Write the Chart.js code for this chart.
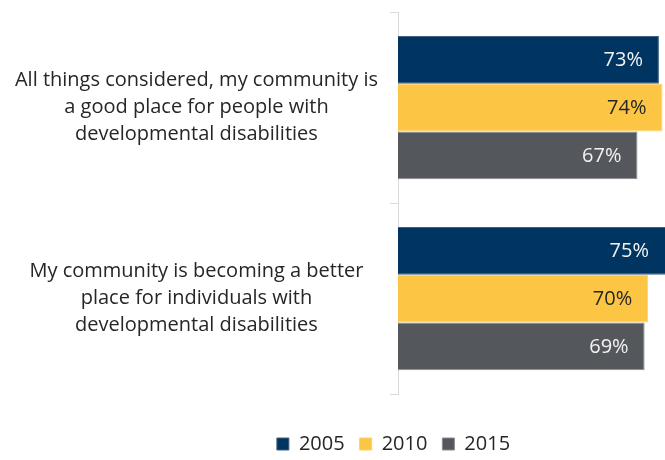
<!DOCTYPE html>
<html>
<head>
<meta charset="utf-8">
<script src="https://cdn.jsdelivr.net/npm/chart.js@4/dist/chart.umd.min.js"></script>
<style>
  html, body { margin: 0; padding: 0; background: #fff; }
  #wrap { width: 665px; height: 460px; }
</style>
</head>
<body>
<div id="wrap"><canvas id="bar_chart"></canvas></div>
<script>
var categories = [
  ["All things considered, my community is", "a good place for people with", "developmental disabilities"],
  ["My community is becoming a better", "place for individuals with", "developmental disabilities"],
];
var seriesNames = ["2005", "2010", "2015"];
var values2005 = [73, 75];
var values2010 = [74, 70];
var values2015 = [67, 69];

var fontFamily = "'Open Sans', sans-serif";

// draws the "73%" labels inside the bar ends
var valueLabels = {
  id: "valueLabels",
  afterDatasetsDraw: function (chart) {
    var ctx = chart.ctx;
    ctx.save();
    ctx.font = "20px " + fontFamily;
    ctx.textAlign = "right";
    ctx.textBaseline = "middle";
    chart.data.datasets.forEach(function (ds, i) {
      var meta = chart.getDatasetMeta(i);
      meta.data.forEach(function (bar, j) {
        var x = Math.min(bar.x, chart.chartArea.right);
        ctx.fillStyle = ds.labelColor;
        ctx.fillText(ds.data[j] + "%", x - 16, bar.y + 1);
      });
    });
    ctx.restore();
  },
};

// legend in the original sits right of centre
var shiftLegend = {
  id: "shiftLegend",
  afterLayout: function (chart) {
    chart.legend.left += 61;
    chart.legend.right += 61;
  },
};

var ctx = document.getElementById("bar_chart").getContext("2d");
var myChart = new Chart(ctx, {
  type: "bar",
  data: {
    labels: categories,
    datasets: [
      {
        label: seriesNames[0],
        data: values2005,
        backgroundColor: "#003562",
        borderColor: "#40607f",
        borderWidth: 1,
        labelColor: "#f2f2f2",
      },
      {
        label: seriesNames[1],
        data: values2010,
        backgroundColor: "#fdc544",
        borderColor: "#fdd170",
        borderWidth: 1,
        labelColor: "#262626",
      },
      {
        label: seriesNames[2],
        data: values2015,
        backgroundColor: "#54575b",
        borderColor: "#8a8c8f",
        borderWidth: 1,
        labelColor: "#f2f2f2",
      },
    ],
  },
  plugins: [valueLabels, shiftLegend],
  options: {
    indexAxis: "y",
    responsive: true,
    maintainAspectRatio: false,
    animation: false,
    categoryPercentage: 0.75,
    barPercentage: 1.0,
    layout: {
      padding: { top: 12, right: 0, bottom: -4, left: 0 },
    },
    scales: {
      x: {
        display: true,
        min: 0,
        max: 74.7,
        grid: { display: false },
        border: { display: false },
        ticks: { display: false },
        afterFit: function (axis) {
          axis.height = 25;
        },
      },
      y: {
        afterFit: function (axis) {
          axis.width = 398;
          axis.paddingTop = 0;
          axis.paddingBottom = 0;
        },
        border: { display: true, color: "#d9d9d9", width: 1 },
        grid: {
          display: true,
          offset: true,
          drawOnChartArea: false,
          drawTicks: true,
          tickLength: 8,
          color: "#d9d9d9",
        },
        ticks: {
          crossAlign: "center",
          padding: 12,
          color: "#262626",
          font: { family: fontFamily, size: 20, lineHeight: 1.35 },
        },
      },
    },
    plugins: {
      tooltip: { enabled: false },
      legend: {
        position: "bottom",
        labels: {
          boxWidth: 12,
          boxHeight: 12,
          padding: 15,
          color: "#262626",
          font: { family: fontFamily, size: 20 },
        },
      },
    },
  },
});
</script>
</body>
</html>
